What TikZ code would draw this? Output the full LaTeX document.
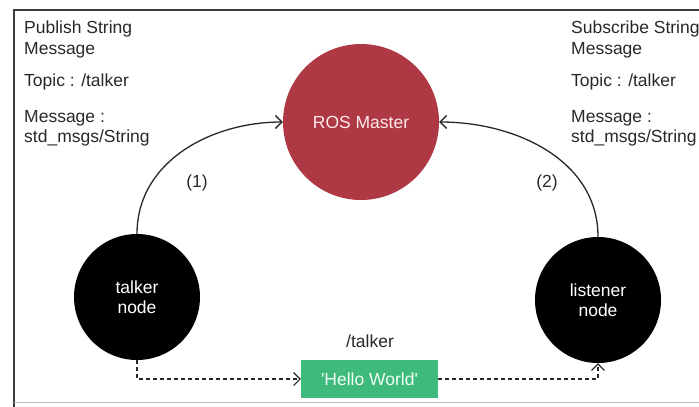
\documentclass[tikz,border=0pt]{standalone}
\usepackage{fontspec}
\setmainfont{Liberation Sans}
\usetikzlibrary{arrows.meta}
\definecolor{masterred}{RGB}{174,56,68}
\definecolor{msggreen}{RGB}{62,186,124}
\definecolor{framegray}{RGB}{60,60,60}
\definecolor{inkgray}{RGB}{40,40,40}
\begin{document}
\begin{tikzpicture}[x=1pt,y=1pt,
  font=\fontsize{17.5}{20.5}\selectfont,
  rosnode/.style={circle,fill=black,text=white,minimum size=126pt,inner sep=0pt,align=center},
  master/.style={circle,fill=masterred,text=red!8!white,minimum size=156pt,inner sep=0pt},
  msgbox/.style={rectangle,fill=msggreen,text=green!6!white,minimum width=137pt,minimum height=38pt,inner sep=0pt},
  info/.style={anchor=north west,align=left,inner sep=0pt,text=inkgray},
  label/.style={text=inkgray},
  tip/.style={-{Straight Barb[length=6.5pt,width=13pt]}},
  link/.style={tip,line width=1.3pt,inkgray},
  flow/.style={tip,dash pattern=on 4pt off 3pt,line width=1.1pt,inkgray}]
\useasboundingbox (0,0) rectangle (699,-407);
% frame
\draw[framegray,line width=1.3pt] (699,-10) -- (14,-10) -- (14,-407);
\draw[black!25,line width=0.8pt] (14,-402) -- (699,-402);

% nodes
\node[master] (master) at (361,-122) {ROS Master};
\node[rosnode] (talker) at (137,-297) {talker\\node};
\node[rosnode] (listener) at (598,-300) {listener\\node};
\node[msgbox] (hello) at (369.5,-379) {\textquotesingle Hello World\textquotesingle};
\node[label] (topic) at (370,-341) {/talker};

% registration with the master
\draw[link] (talker.north) to[out=90,in=180] (master.west);
\draw[link] (listener.north) to[out=90,in=0] (master.east);
\node[label] (n1) at (197,-183) {(1)};
\node[label] (n2) at (547,-183) {(2)};

% message flow
\draw[flow] (talker.south) |- (hello.west);
\draw[flow] (hello.east) -| (listener.south);

% descriptions
\node[info] (pubtxt) at (24,-21) {Publish String\\Message};
\node[info] (pubtopic) at (24,-74) {Topic : /talker};
\node[info] (pubmsg) at (24,-110) {Message :\\std\_msgs/String};
\node[info] (subtxt) at (571,-21) {Subscribe String\\Message};
\node[info] (subtopic) at (571,-74) {Topic : /talker};
\node[info] (submsg) at (571,-110) {Message :\\std\_msgs/String};
\end{tikzpicture}
\end{document}
